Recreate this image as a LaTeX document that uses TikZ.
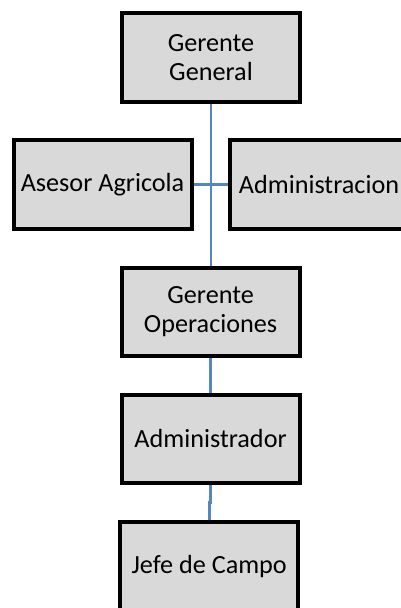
\documentclass[tikz,border=0pt]{standalone}
\usepackage{fontspec}
\setmainfont{Carlito}
\usetikzlibrary{calc}
\definecolor{boxfill}{RGB}{217,217,217}
\definecolor{linkblue}{RGB}{84,134,192}
\tikzset{
  orgbox/.style={draw=black, line width=4pt, fill=boxfill, minimum width=178pt,
    minimum height=88.5pt, inner sep=0pt, align=center,
    font=\fontsize{26.2}{28.6}\selectfont},
  link/.style={draw=linkblue, line width=2.6pt}
}
\begin{document}
\begin{tikzpicture}[x=1pt,y=-1pt]
\useasboundingbox (0,0) rectangle (401,608);
\clip (0,0) rectangle (401,608);
\node[orgbox] (gg) at (211,57.5) {Gerente\\General};
\node[orgbox] (as) at (102.5,184.5) {Asesor Agricola};
\node[orgbox] (ad) at (319,184.5) {Administracion};
\node[orgbox] (go) at (210.6,311.9) {Gerente\\Operaciones};
\node[orgbox] (adm) at (210.6,438.9) {Administrador};
\node[orgbox] (jefe) at (209.2,566.3) {Jefe de Campo};
\draw[link] (gg.south) -- (gg.south |- go.north);
\draw[link] (as.east) -- (ad.west);
\draw[link] (go.south) -- (adm.north);
\draw[link] (adm.south) |- ($(adm.south)!0.5!(jefe.north)$) -| (jefe.north);
\end{tikzpicture}
\end{document}
